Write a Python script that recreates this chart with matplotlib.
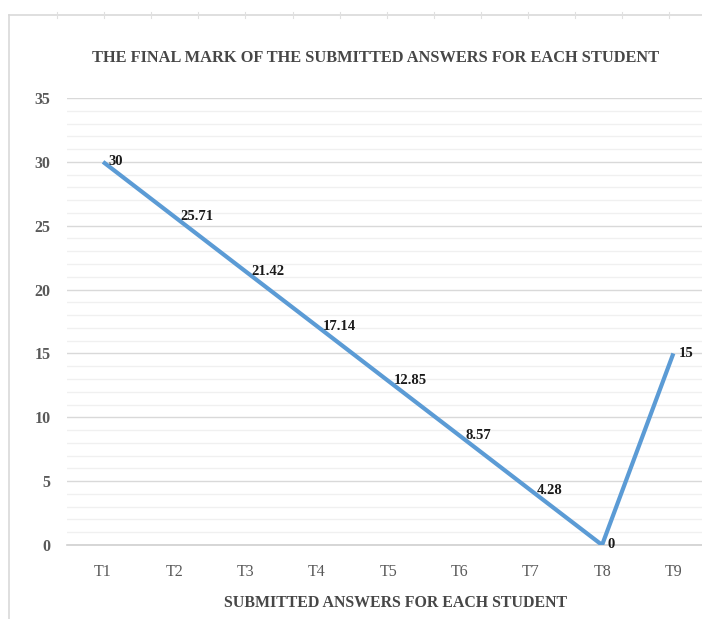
import matplotlib
matplotlib.use("Agg")
import matplotlib.pyplot as plt
from matplotlib.lines import Line2D
from matplotlib.ticker import MultipleLocator

# Final marks per submitted answer
students = ["T1", "T2", "T3", "T4", "T5", "T6", "T7", "T8", "T9"]
marks = [30, 25.71, 21.42, 17.14, 12.85, 8.57, 4.28, 0, 15]
mark_labels = ["30", "25.71", "21.42", "17.14", "12.85", "8.57", "4.28", "0", "15"]

title = "THE FINAL MARK OF THE SUBMITTED ANSWERS FOR EACH STUDENT"
xlabel = "SUBMITTED ANSWERS FOR EACH STUDENT"

W, H = 702, 619
fig = plt.figure(figsize=(W / 100, H / 100), dpi=100)
fig.patch.set_facecolor("white")

serif = ["Liberation Serif", "DejaVu Serif"]
grey_text = "#595959"
heading_c = "#474747"

# Plot area (category axis padded half a slot on each side)
left_px, right_px = 67.4, 709.0
bottom_px, top_px = 545.0, 98.0
ax = fig.add_axes([left_px / W, (H - bottom_px) / H,
                   (right_px - left_px) / W, (bottom_px - top_px) / H])
ax.set_facecolor("none")

x = list(range(1, len(students) + 1))
ax.plot(x, marks, color="#5B9BD5", lw=3.0, solid_capstyle="butt",
        solid_joinstyle="miter", zorder=3)

for xi, yi, lab in zip(x, marks, mark_labels):
    ax.annotate(lab, (xi, yi), xytext=(4, 0), textcoords="offset points",
                ha="left", va="center", fontsize=10.5, fontweight="bold",
                family=serif, color="#1a1a1a", zorder=4)

ax.set_xlim(0.5, len(students) + 0.5)
ax.set_ylim(0, 35)
ax.yaxis.set_major_locator(MultipleLocator(5))
ax.yaxis.set_minor_locator(MultipleLocator(1))
ax.grid(which="major", axis="y", color="#d9d9d9", lw=1.0, zorder=0)
ax.grid(which="minor", axis="y", color="#f0f0f0", lw=1.0, zorder=0)
ax.set_axisbelow(True)

ax.set_xticks(x)
ax.set_xticklabels(students, family=serif, fontsize=11.5, color=grey_text)
ax.tick_params(axis="x", length=0, pad=14)
ax.tick_params(axis="y", length=0, pad=12, labelsize=11.5, labelcolor=grey_text)
for t in ax.get_yticklabels():
    t.set_family(serif)
    t.set_fontweight("bold")
ax.tick_params(which="minor", length=0)

for side in ("top", "right", "left"):
    ax.spines[side].set_visible(False)
ax.spines["bottom"].set_color("#d0d0d0")
ax.spines["bottom"].set_linewidth(1.2)

fig.text(376 / W, 1 - 58 / H, title, ha="center", va="center",
         family=serif, fontsize=11.8, fontweight="bold", color=heading_c)
fig.text(395 / W, 1 - 603 / H, xlabel, ha="center", va="center",
         family=serif, fontsize=11.4, fontweight="bold", color=heading_c)

# Chart frame and column dividers along the top edge
frame_c = "#d9d9d9"
fig.add_artist(Line2D([9 / W, 1.0], [1 - 15 / H, 1 - 15 / H],
                      transform=fig.transFigure, color=frame_c, lw=1.2))
fig.add_artist(Line2D([9 / W, 9 / W], [0, 1 - 15 / H],
                      transform=fig.transFigure, color=frame_c, lw=1.2))
for k in range(14):
    xp = (57 + 47.1 * k) / W
    fig.add_artist(Line2D([xp, xp], [1 - 12 / H, 1 - 18 / H],
                          transform=fig.transFigure, color="#e0e0e0", lw=0.8))

fig.savefig("out.png", dpi=100, facecolor="white")
